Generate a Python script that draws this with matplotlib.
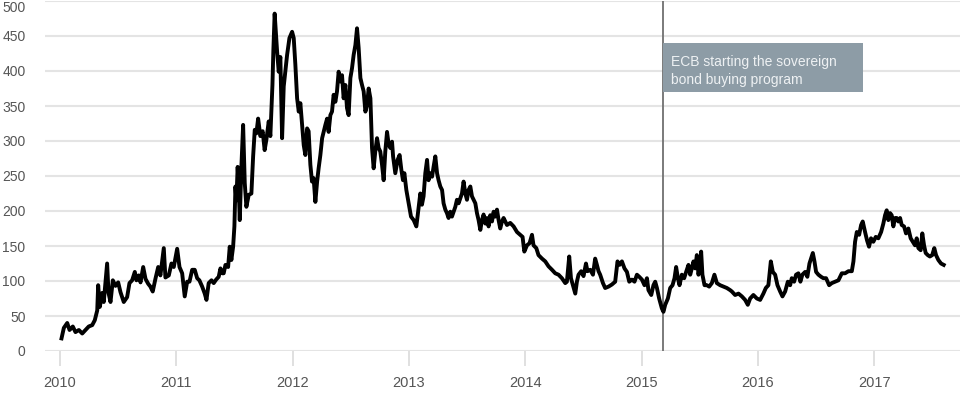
import matplotlib
matplotlib.use("Agg")
import matplotlib.pyplot as plt
from matplotlib.patches import Rectangle

# Decimal-year dates and spread values (bp)
years = [
    2010.013, 2010.033, 2010.062, 2010.082, 2010.110, 2010.133, 2010.162, 2010.191, 2010.219, 2010.247,
    2010.277, 2010.299, 2010.320, 2010.328, 2010.342, 2010.363, 2010.376, 2010.405, 2010.417, 2010.434,
    2010.454, 2010.477, 2010.500, 2010.520, 2010.548, 2010.577, 2010.597, 2010.620, 2010.643, 2010.657,
    2010.677, 2010.692, 2010.715, 2010.735, 2010.758, 2010.777, 2010.797, 2010.820, 2010.844, 2010.863,
    2010.892, 2010.906, 2010.935, 2010.958, 2010.978, 2011.007, 2011.027, 2011.050, 2011.072, 2011.093,
    2011.113, 2011.136, 2011.158, 2011.179, 2011.198, 2011.222, 2011.244, 2011.259, 2011.278, 2011.302,
    2011.321, 2011.342, 2011.364, 2011.379, 2011.394, 2011.407, 2011.422, 2011.445, 2011.459, 2011.473,
    2011.488, 2011.499, 2011.508, 2011.516, 2011.527, 2011.536, 2011.545, 2011.559, 2011.574, 2011.588,
    2011.602, 2011.622, 2011.645, 2011.660, 2011.674, 2011.688, 2011.703, 2011.722, 2011.742, 2011.759,
    2011.774, 2011.794, 2011.808, 2011.826, 2011.834, 2011.845, 2011.866, 2011.880, 2011.894, 2011.909,
    2011.923, 2011.937, 2011.952, 2011.972, 2011.995, 2012.009, 2012.023, 2012.038, 2012.052, 2012.066,
    2012.081, 2012.095, 2012.109, 2012.124, 2012.137, 2012.152, 2012.166, 2012.180, 2012.195, 2012.210,
    2012.223, 2012.238, 2012.253, 2012.266, 2012.281, 2012.296, 2012.309, 2012.324, 2012.338, 2012.352,
    2012.367, 2012.381, 2012.395, 2012.410, 2012.424, 2012.438, 2012.453, 2012.467, 2012.481, 2012.496,
    2012.510, 2012.524, 2012.539, 2012.553, 2012.567, 2012.582, 2012.596, 2012.610, 2012.625, 2012.639,
    2012.653, 2012.668, 2012.682, 2012.696, 2012.710, 2012.725, 2012.739, 2012.753, 2012.768, 2012.782,
    2012.796, 2012.811, 2012.825, 2012.839, 2012.854, 2012.863, 2012.882, 2012.902, 2012.919, 2012.934,
    2012.948, 2012.960, 2012.977, 2012.997, 2013.017, 2013.040, 2013.063, 2013.082, 2013.097, 2013.111,
    2013.125, 2013.140, 2013.155, 2013.168, 2013.183, 2013.198, 2013.211, 2013.226, 2013.241, 2013.254,
    2013.269, 2013.284, 2013.297, 2013.312, 2013.326, 2013.340, 2013.355, 2013.369, 2013.383, 2013.398,
    2013.412, 2013.426, 2013.441, 2013.455, 2013.469, 2013.484, 2013.498, 2013.512, 2013.527, 2013.541,
    2013.555, 2013.570, 2013.584, 2013.598, 2013.613, 2013.627, 2013.641, 2013.656, 2013.670, 2013.684,
    2013.698, 2013.713, 2013.727, 2013.741, 2013.756, 2013.770, 2013.784, 2013.799, 2013.813, 2013.842,
    2013.870, 2013.899, 2013.928, 2013.956, 2013.976, 2013.991, 2014.014, 2014.036, 2014.057, 2014.070,
    2014.094, 2014.113, 2014.143, 2014.171, 2014.199, 2014.229, 2014.257, 2014.285, 2014.314, 2014.343,
    2014.357, 2014.377, 2014.392, 2014.409, 2014.429, 2014.443, 2014.457, 2014.480, 2014.500, 2014.521,
    2014.534, 2014.558, 2014.581, 2014.600, 2014.615, 2014.629, 2014.643, 2014.667, 2014.686, 2014.715,
    2014.744, 2014.772, 2014.792, 2014.809, 2014.830, 2014.852, 2014.873, 2014.893, 2014.916, 2014.938,
    2014.959, 2014.979, 2015.002, 2015.024, 2015.045, 2015.058, 2015.082, 2015.101, 2015.116, 2015.131,
    2015.150, 2015.173, 2015.187, 2015.202, 2015.225, 2015.245, 2015.265, 2015.282, 2015.296, 2015.311,
    2015.325, 2015.345, 2015.365, 2015.382, 2015.402, 2015.417, 2015.431, 2015.445, 2015.460, 2015.474,
    2015.488, 2015.503, 2015.511, 2015.522, 2015.540, 2015.560, 2015.580, 2015.603, 2015.625, 2015.646,
    2015.674, 2015.703, 2015.732, 2015.760, 2015.775, 2015.803, 2015.832, 2015.861, 2015.889, 2015.912,
    2015.932, 2015.960, 2015.990, 2016.018, 2016.046, 2016.067, 2016.089, 2016.110, 2016.127, 2016.147,
    2016.167, 2016.190, 2016.210, 2016.233, 2016.256, 2016.276, 2016.290, 2016.310, 2016.327, 2016.347,
    2016.364, 2016.381, 2016.405, 2016.424, 2016.442, 2016.456, 2016.471, 2016.485, 2016.499, 2016.519,
    2016.542, 2016.562, 2016.585, 2016.611, 2016.634, 2016.663, 2016.691, 2016.720, 2016.748, 2016.777,
    2016.806, 2016.820, 2016.834, 2016.849, 2016.869, 2016.886, 2016.900, 2016.920, 2016.937, 2016.954,
    2016.971, 2016.991, 2017.012, 2017.034, 2017.058, 2017.077, 2017.092, 2017.106, 2017.120, 2017.135,
    2017.149, 2017.163, 2017.178, 2017.192, 2017.206, 2017.221, 2017.235, 2017.255, 2017.272, 2017.292,
    2017.312, 2017.330, 2017.349, 2017.364, 2017.378, 2017.398, 2017.412, 2017.427, 2017.441, 2017.459,
    2017.477, 2017.497, 2017.515, 2017.530, 2017.550, 2017.573, 2017.596,
]

spread = [
    18, 33, 40, 30, 35, 27, 30, 25, 30, 35,
    37, 44, 58, 94, 63, 83, 70, 125, 83, 70,
    101, 93, 98, 84, 70, 77, 97, 101, 113, 101,
    108, 98, 120, 103, 96, 92, 85, 103, 120, 108,
    147, 105, 108, 125, 120, 146, 120, 111, 78, 99,
    99, 116, 116, 104, 101, 92, 82, 73, 97, 101,
    97, 102, 106, 118, 111, 111, 123, 120, 149, 130,
    149, 178, 235, 215, 263, 235, 187, 263, 323, 240,
    206, 223, 225, 278, 316, 311, 332, 307, 314, 287,
    302, 328, 307, 380, 430, 482, 428, 399, 420, 304,
    378, 400, 423, 447, 456, 447, 409, 361, 342, 354,
    323, 294, 280, 318, 314, 266, 242, 247, 213, 242,
    261, 280, 304, 313, 323, 332, 313, 337, 342, 366,
    356, 371, 399, 385, 394, 361, 380, 347, 337, 390,
    404, 423, 437, 461, 433, 390, 380, 371, 342, 351,
    375, 361, 290, 261, 285, 304, 290, 285, 266, 244,
    285, 313, 295, 290, 299, 278, 254, 273, 280, 259,
    244, 254, 230, 211, 192, 187, 178, 204, 225, 209,
    221, 254, 273, 244, 254, 249, 263, 278, 254, 244,
    235, 230, 211, 202, 197, 190, 199, 192, 199, 206,
    216, 211, 218, 225, 242, 225, 216, 230, 235, 221,
    216, 211, 197, 187, 173, 187, 195, 182, 190, 178,
    194, 185, 199, 192, 202, 187, 175, 185, 190, 180,
    183, 178, 170, 166, 163, 142, 151, 154, 166, 151,
    147, 137, 132, 128, 121, 116, 111, 109, 104, 97,
    99, 135, 104, 94, 82, 99, 109, 114, 107, 125,
    114, 116, 109, 132, 123, 114, 109, 97, 90, 92,
    95, 99, 128, 123, 128, 118, 113, 99, 102, 99,
    109, 106, 102, 94, 104, 87, 80, 94, 99, 90,
    75, 61, 56, 66, 75, 90, 94, 104, 120, 104,
    94, 109, 104, 113, 123, 109, 118, 128, 118, 137,
    109, 123, 142, 109, 94, 94, 92, 97, 109, 97,
    94, 92, 90, 87, 85, 80, 82, 78, 73, 66,
    75, 80, 75, 73, 82, 90, 94, 128, 113, 109,
    94, 85, 78, 85, 99, 94, 104, 99, 109, 111,
    99, 109, 113, 106, 125, 132, 140, 128, 113, 109,
    106, 104, 104, 94, 97, 99, 101, 111, 111, 114,
    114, 128, 156, 170, 166, 180, 185, 170, 158, 149,
    161, 156, 163, 161, 170, 182, 194, 201, 187, 197,
    194, 178, 190, 190, 185, 190, 180, 178, 168, 175,
    161, 156, 151, 161, 147, 144, 168, 151, 140, 137,
    135, 137, 147, 137, 130, 125, 123,
]

year_ticks = [2010, 2011, 2012, 2013, 2014, 2015, 2016, 2017]
value_ticks = [0, 50, 100, 150, 200, 250, 300, 350, 400, 450, 500]
event_year = 2015.18
event_label = "ECB starting the sovereign\nbond buying program"

plt.rcParams['font.family'] = ['Liberation Sans', 'DejaVu Sans']

fig = plt.figure(figsize=(9.6, 4), dpi=100)
ax = fig.add_axes([45 / 960, 49 / 400, 915 / 960, 350 / 400])
ax.set_xlim(2009.871, 2017.736)
ax.set_ylim(0, 500)
for s in ax.spines.values():
    s.set_visible(False)

ax.set_yticks(value_ticks)
ax.set_xticks(year_ticks)
ax.set_xticklabels([str(y) for y in year_ticks])
ax.grid(axis='y', color='#e4e4e4', lw=1.5)
ax.set_axisbelow(True)
ax.tick_params(axis='y', length=0, pad=14, labelsize=10, labelcolor='#555555')
ax.tick_params(axis='x', length=11, width=1.2, color='#dadada', pad=7,
               labelsize=10.5, labelcolor='#555555')
# keep the top label inside the figure
ax.get_yticklabels()[-1].set_verticalalignment('top')

ax.axvline(event_year, color='#707070', lw=1.3, zorder=2)
ax.plot(years, spread, color='black', lw=2.8, zorder=3, solid_joinstyle='round')

ax.add_patch(Rectangle((event_year, 370), 1.72, 70, facecolor='#8d9ca6',
                       edgecolor='none', zorder=4))
ax.text(event_year + 0.07, 400, event_label, color='#eef1f3', fontsize=10,
        va='center', ha='left', linespacing=1.35, zorder=5)

fig.savefig('out.png', dpi=100)
